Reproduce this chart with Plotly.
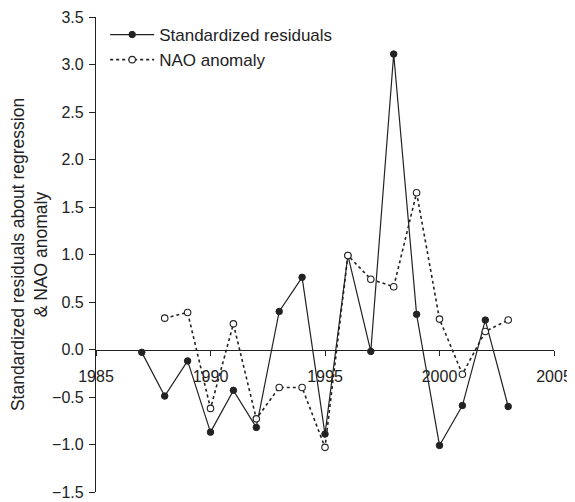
import plotly.graph_objects as go

years_resid = [1987, 1988, 1989, 1990, 1991, 1992, 1993, 1994, 1995, 1996, 1997, 1998, 1999, 2000, 2001, 2002, 2003]
resid = [-0.03, -0.49, -0.12, -0.87, -0.43, -0.82, 0.40, 0.76, -0.89, 0.99, -0.02, 3.11, 0.37, -1.01, -0.59, 0.31, -0.60]

years_nao = [1988, 1989, 1990, 1991, 1992, 1993, 1994, 1995, 1996, 1997, 1998, 1999, 2000, 2001, 2002, 2003]
nao = [0.33, 0.39, -0.62, 0.27, -0.73, -0.40, -0.40, -1.03, 0.99, 0.74, 0.66, 1.65, 0.32, -0.26, 0.19, 0.31]

x_ticks = [1985, 1990, 1995, 2000, 2005]
y_ticks = [-1.5, -1.0, -0.5, 0.0, 0.5, 1.0, 1.5, 2.0, 2.5, 3.0, 3.5]

ink = "#222222"
font = "Liberation Sans, Arial, Helvetica, sans-serif"

fig = go.Figure()
fig.add_trace(go.Scatter(
    x=years_resid, y=resid, mode="lines+markers", name="Standardized residuals",
    line=dict(color=ink, width=1.2),
    marker=dict(symbol="circle", size=6.5, color=ink, line=dict(color=ink, width=1)),
))
fig.add_trace(go.Scatter(
    x=years_nao, y=nao, mode="lines+markers", name="NAO anomaly",
    line=dict(color=ink, width=1.6, dash="dot"),
    marker=dict(symbol="circle", size=6.5, color="white", line=dict(color=ink, width=1.1)),
))

fig.update_layout(
    width=567, height=494,
    margin=dict(l=88, r=21, t=9, b=10),
    paper_bgcolor="white", plot_bgcolor="white",
    font=dict(family=font, size=16, color=ink),
    showlegend=True,
    legend=dict(x=0.02, y=1.0, xanchor="left", yanchor="top",
                bgcolor="rgba(0,0,0,0)", font=dict(size=17, family=font, color=ink),
                tracegroupgap=0, itemwidth=44),
    xaxis=dict(range=[1985, 2005], tickvals=x_ticks, ticktext=[str(v) for v in x_ticks],
               showgrid=False, zeroline=False, showline=True, linecolor=ink, linewidth=1.2,
               ticks="outside", ticklen=5, tickcolor=ink, tickwidth=1.2,
               anchor="free", position=0.3, tickfont=dict(size=16),
               ticklabelstandoff=7, automargin=False),
    yaxis=dict(range=[-1.5, 3.5], tickvals=y_ticks,
               ticktext=[f"{v:.1f}".replace("-", "\u2212") for v in y_ticks],
               showgrid=False, zeroline=False, showline=True, linecolor=ink, linewidth=1.2,
               ticks="outside", ticklen=6, tickcolor=ink, tickwidth=1.2,
               tickfont=dict(size=16), automargin=False, ticklabelstandoff=2,
               title=dict(text="Standardized residuals about regression<br>& NAO anomaly",
                          font=dict(size=17.5), standoff=6)),
)

fig.write_html("out.html")
